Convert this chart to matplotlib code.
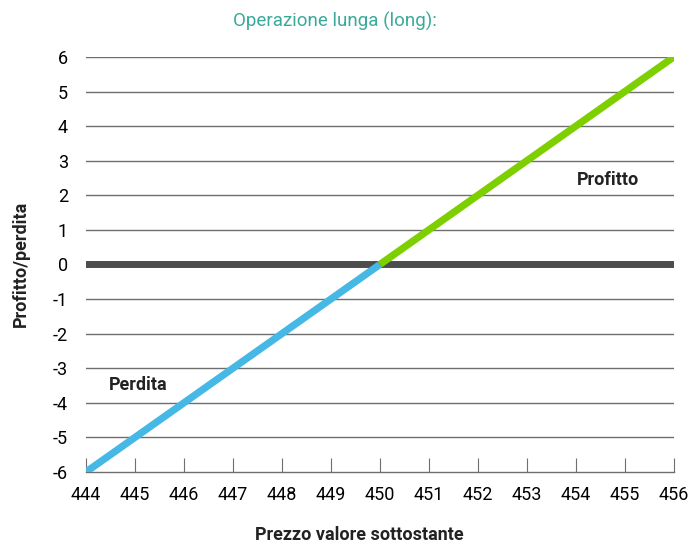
import matplotlib.pyplot as plt
import numpy as np

plt.rcParams["font.family"] = ["Roboto", "DejaVu Sans"]
plt.rcParams["axes.unicode_minus"] = False

# payoff of the long position
prezzo_perdita = [444, 450]
valore_perdita = [-6, 0]
prezzo_profitto = [450, 456]
valore_profitto = [0, 6]
x_ticks = list(range(444, 457))
y_ticks = list(range(-6, 7))

fig = plt.figure(figsize=(6.89, 5.45), dpi=100)
ax = fig.add_axes([0.1248, 0.134, 0.853, 0.7614])

for y in y_ticks:
    if y == -6:
        continue
    ax.axhline(y, color='#6e6e6e', lw=1.0, zorder=1)
ax.axhline(0, color='#4d4d4d', lw=5.0, zorder=2)

ax.plot(prezzo_perdita, valore_perdita, color='#45b8e6', lw=5.2, solid_capstyle='butt', zorder=3)
ax.plot(prezzo_profitto, valore_profitto, color='#7dcf00', lw=5.2, solid_capstyle='butt', zorder=3)

ax.set_xlim(444, 456)
ax.set_ylim(-6, 6)
ax.set_xticks(x_ticks)
ax.set_yticks(y_ticks)
ax.tick_params(axis='x', direction='in', length=10, color='#6e6e6e', labelsize=13, pad=10)
ax.tick_params(axis='y', length=0, labelsize=13, pad=13)
for s in ['top', 'right', 'left']:
    ax.spines[s].set_visible(False)
ax.spines['bottom'].set_color('#6e6e6e')
ax.spines['bottom'].set_linewidth(1.0)

ax.text(454.65, 2.45, 'Profitto', fontsize=13, fontweight='bold', color='#222222', ha='center', va='center')
ax.text(445.06, -3.48, 'Perdita', fontsize=13, fontweight='bold', color='#222222', ha='center', va='center')

fig.text(0.486, 0.96, 'Operazione lunga (long):', color='#3aa99b', fontsize=13.5, ha='center', va='center')
fig.text(0.522, 0.018, 'Prezzo valore sottostante', fontsize=13, fontweight='bold', color='#222222', ha='center', va='center')
fig.text(0.03, 0.515, 'Profitto/perdita', fontsize=13, fontweight='bold', color='#222222', ha='center', va='center', rotation=90)

fig.savefig('out.png', dpi=100)
